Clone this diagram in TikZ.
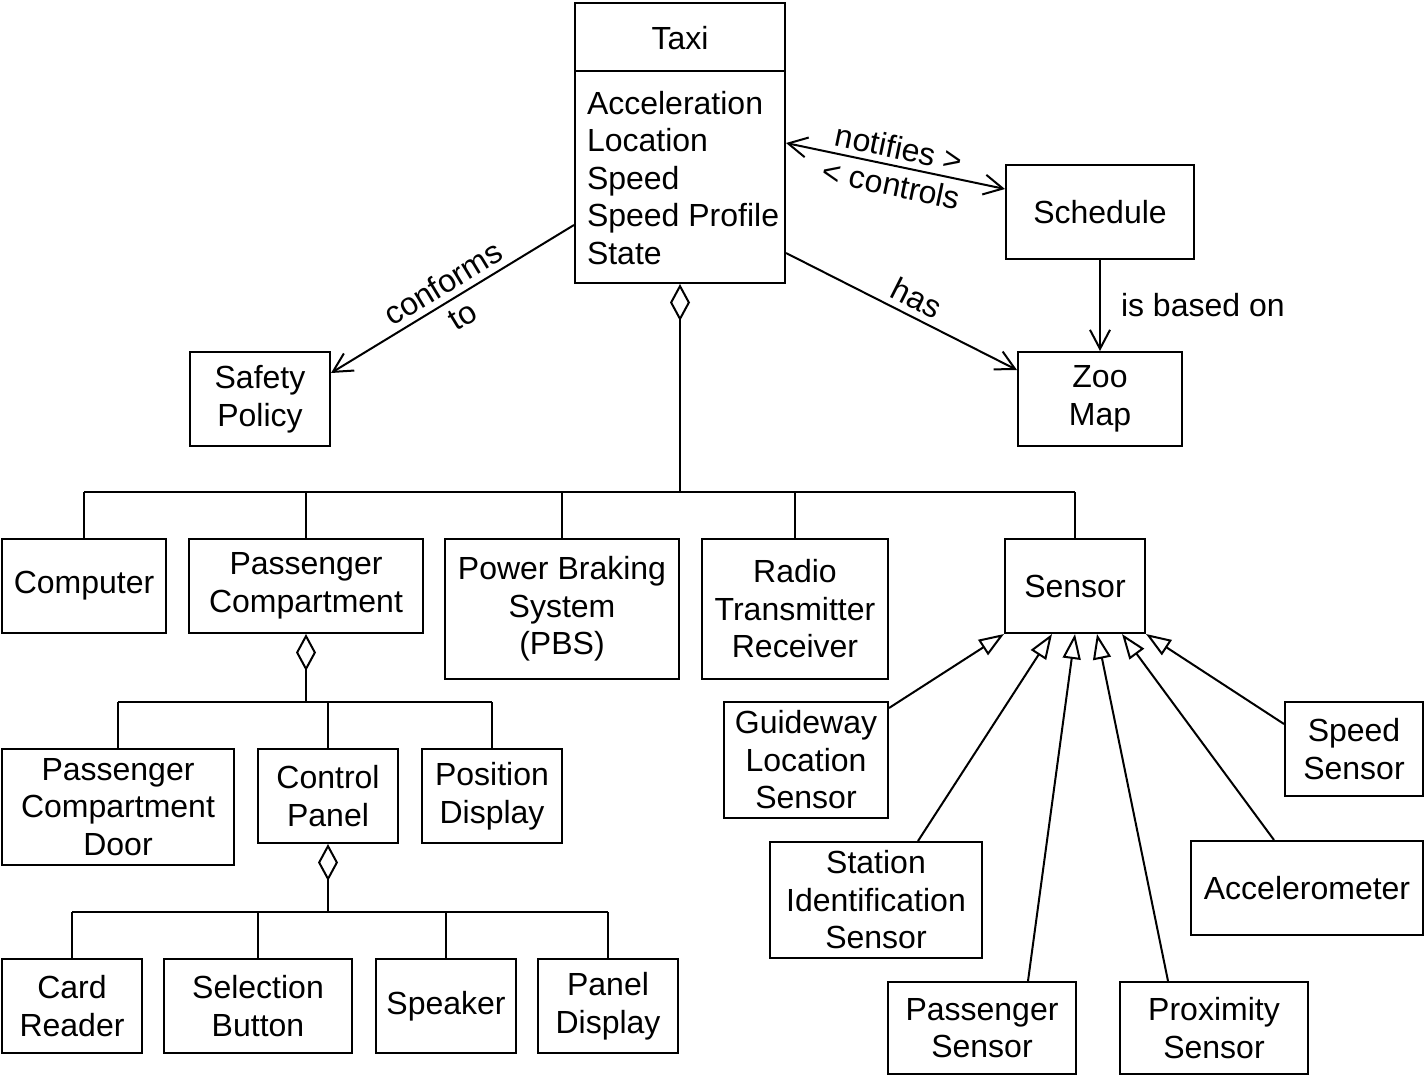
\documentclass[tikz,border=0pt]{standalone}
\usepackage{fontspec}
\setmainfont{Liberation Sans}
\usetikzlibrary{arrows.meta,calc}

\begin{document}
\begin{tikzpicture}[x=1pt,y=-1pt,
  line width=2pt,
  every node/.style={font=\fontsize{32}{37.5}\selectfont},
  box/.style 2 args={draw, align=center, inner sep=0pt,
    minimum width=#1pt, minimum height=#2pt},
  edgetext/.style={inner sep=0pt, align=center},
  assoc/.style={-{Straight Barb[length=19pt,width=20pt]}},
  biassoc/.style={{Straight Barb[length=19pt,width=20pt]}-{Straight Barb[length=19pt,width=20pt]}},
  aggr/.style={{Diamond[open,length=37pt,width=20pt]}-},
  gen/.style={-{Triangle[open,length=25pt,width=18pt]}}
]
\fill[white] (0,0) rectangle (1424,1076);
\useasboundingbox (0,0) rectangle (1424,1076);

% ---- Taxi class with its attribute compartment ----
\node[draw, inner sep=0pt, minimum width=210pt, minimum height=280pt] (taxi) at (680,143) {};
\draw ([yshift=-69pt]taxi.north west) -- ([yshift=-69pt]taxi.north east);
\node (taxiname) at (680,38) {Taxi};
\node[align=left, anchor=west, inner sep=0pt] (taxiattrs) at (586,178)
  {Acceleration\\Location\\Speed\\Speed Profile\\State};

% ---- classes around the taxi ----
\node[box={140}{94}] (safety) at (260,399) {Safety\\Policy};
\node[box={188}{94}] (schedule) at (1100,212) {Schedule};
\node[box={164}{94}] (zoomap) at (1100,399) {Zoo\\Map};

% ---- taxi parts ----
\node[box={164}{94}] (computer) at (84,586) {Computer};
\node[box={234}{94}] (pcomp) at (306,586) {Passenger\\Compartment};
\node[box={234}{140}] (pbs) at (562,609) {Power Braking\\System\\(PBS)};
\node[box={186}{140}] (radio) at (795,609) {Radio\\Transmitter\\Receiver};
\node[box={140}{94}] (sensor) at (1075,586) {Sensor};

% ---- passenger compartment parts ----
\node[box={232}{116}] (pcdoor) at (118,807) {Passenger\\Compartment\\Door};
\node[box={140}{94}] (cpanel) at (328,796) {Control\\Panel};
\node[box={140}{94}] (posdisp) at (492,796) {Position\\Display};

% ---- control panel parts ----
\node[box={140}{94}] (cardrd) at (72,1006) {Card\\Reader};
\node[box={188}{94}] (selbtn) at (258,1006) {Selection\\Button};
\node[box={140}{94}] (speaker) at (446,1006) {Speaker};
\node[box={140}{94}] (pandisp) at (608,1006) {Panel\\Display};

% ---- sensor kinds ----
\node[box={164}{116}] (guide) at (806,760) {Guideway\\Location\\Sensor};
\node[box={138}{94}] (speedsens) at (1354,749) {Speed\\Sensor};
\node[box={212}{116}] (station) at (876,900) {Station\\Identification\\Sensor};
\node[box={232}{94}] (accel) at (1307,888) {Accelerometer};
\node[box={188}{92}] (psens) at (982,1028) {Passenger\\Sensor};
\node[box={188}{92}] (prox) at (1214,1028) {Proximity\\Sensor};

% ---- associations ----
\draw[biassoc] (taxi.east) -- node[sloped, edgetext] {notifies >\\< controls}
  ([yshift=23pt]schedule.west);
\draw[assoc] ([yshift=-82pt]taxi.west) -- node[sloped, edgetext] {conforms\\to}
  ([yshift=26pt]safety.east);
\draw[assoc] ([yshift=-110pt]taxi.east) -- node[sloped, above, pos=0.53, inner sep=6pt] (haslbl) {has}
  ([yshift=29pt]zoomap.west);
\draw[assoc] (schedule.south) -- node[right, xshift=20pt, inner sep=0pt] (basedlbl) {is based on}
  (schedule.south |- zoomap.north);

% ---- aggregation: taxi ----
\coordinate (busA) at (680,492);
\draw[aggr] (taxi.south) -- (busA);
\draw (computer.north |- busA) -- (sensor.north |- busA);
\foreach \n in {computer,pcomp,pbs,radio,sensor}
  \draw (\n.north) -- (\n.north |- busA);

% ---- aggregation: passenger compartment ----
\coordinate (busB) at (306,702);
\draw[aggr] (pcomp.south) -- (busB);
\draw (pcdoor.north |- busB) -- (posdisp.north |- busB);
\foreach \n in {pcdoor,cpanel,posdisp}
  \draw (\n.north) -- (\n.north |- busB);

% ---- aggregation: control panel ----
\coordinate (busC) at (328,912);
\draw[aggr] (cpanel.south) -- (busC);
\draw (cardrd.north |- busC) -- (pandisp.north |- busC);
\foreach \n in {cardrd,selbtn,speaker,pandisp}
  \draw (\n.north) -- (\n.north |- busC);

% ---- generalization: sensor kinds ----
\draw[gen] ([yshift=52pt]guide.east) -- (sensor.south west);
\draw[gen] ([xshift=42pt]station.north) -- ([xshift=-23pt]sensor.south);
\draw[gen] ([xshift=46pt]psens.north) -- (sensor.south);
\draw[gen] ([xshift=-46pt]prox.north) -- ([xshift=22pt]sensor.south);
\draw[gen] ([xshift=-33pt]accel.north) -- ([xshift=47pt]sensor.south);
\draw[gen] ([yshift=25pt]speedsens.west) -- (sensor.south east);
\end{tikzpicture}
\end{document}
